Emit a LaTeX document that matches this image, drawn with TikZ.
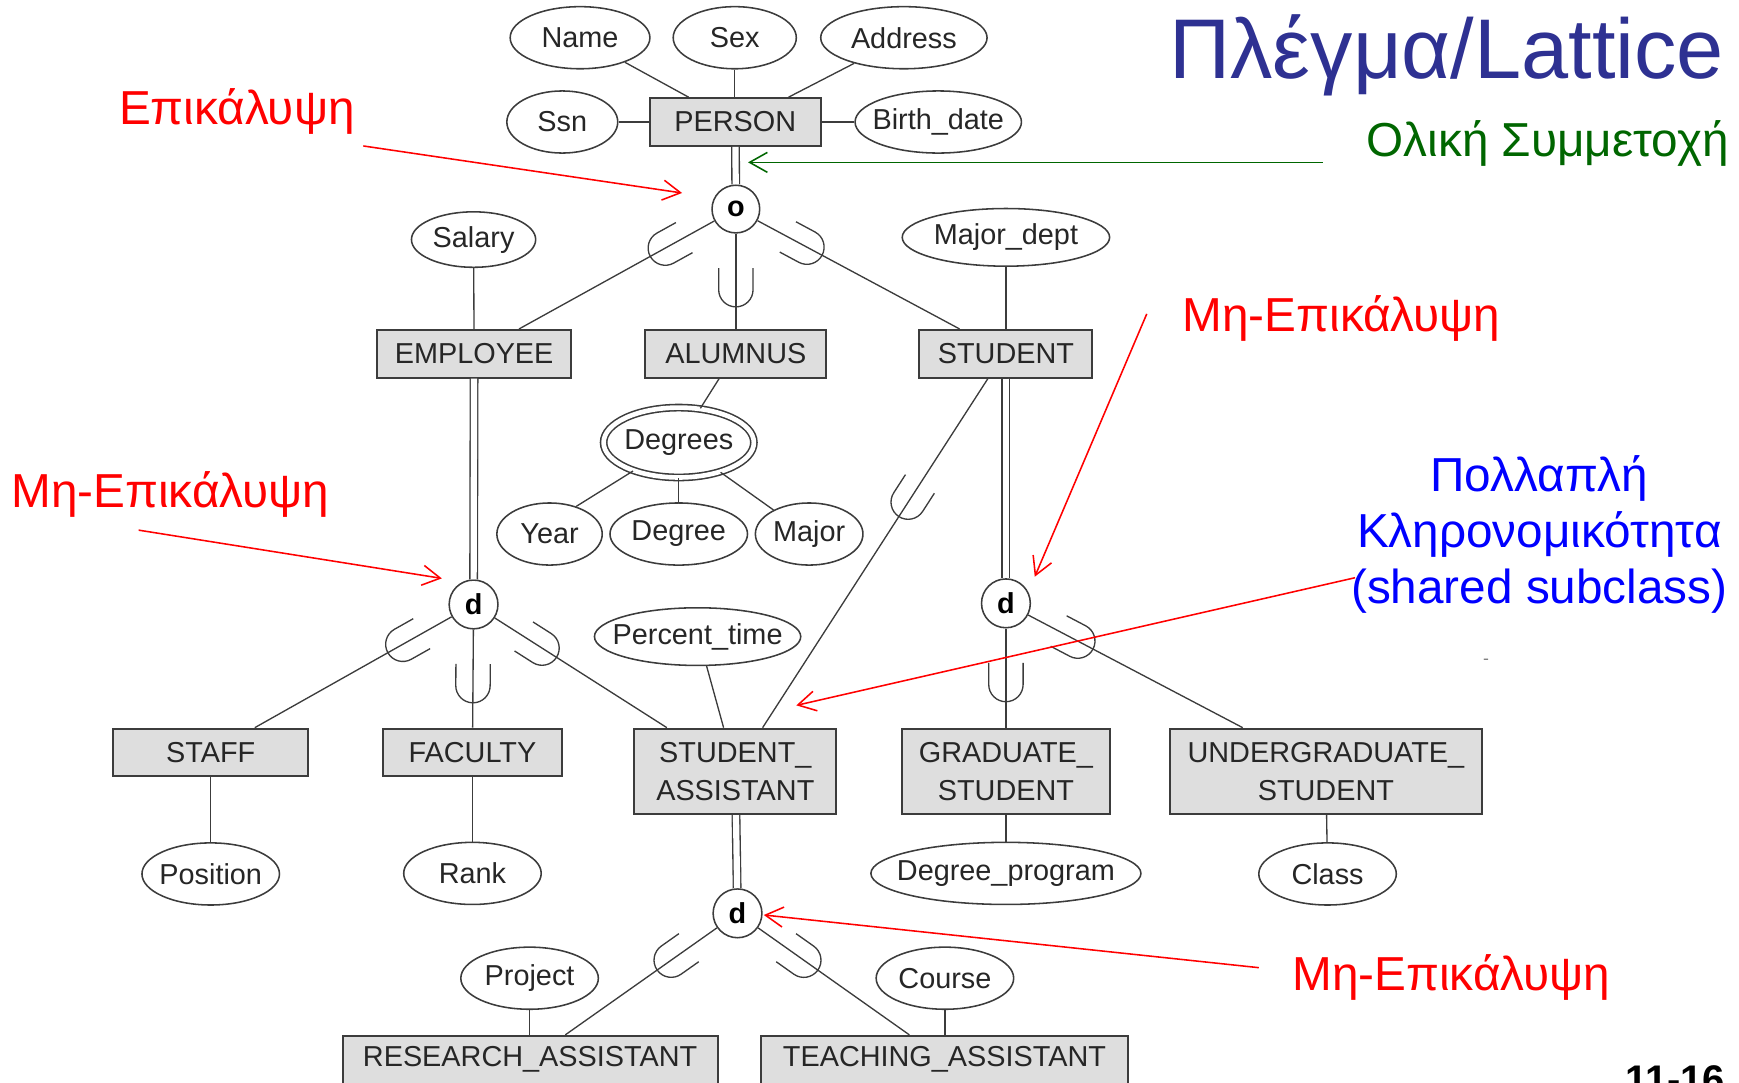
\documentclass[tikz,border=0pt]{standalone}
\usepackage{fontspec}
\setmainfont{Liberation Sans}
\usetikzlibrary{shapes.geometric,arrows.meta,decorations.markings}
\definecolor{lattblue}{RGB}{46,49,146}
\definecolor{noteblue}{RGB}{0,0,255}
\definecolor{notegreen}{RGB}{0,102,0}
\definecolor{notered}{RGB}{255,0,0}
\definecolor{erline}{RGB}{60,60,60}
\definecolor{erfill}{RGB}{222,222,222}
\begin{document}
\begin{tikzpicture}
			[x=0.5pt, y=-0.5pt,
			entity/.style={draw=erline, fill=erfill, line width=0.9pt, inner sep=0pt,
				minimum height=21.5pt, align=center, text=black!85,
				font=\fontsize{13}{17}\selectfont},
			attr/.style={ellipse, draw=erline, line width=0.7pt, inner sep=0pt,
				minimum height=28pt, text=black!85, font=\fontsize{13}{16}\selectfont,
				execute at begin node={\hbox to 0pt\bgroup\hss},
				execute at end node={\hss\egroup}},
			disj/.style={circle, draw=erline, line width=0.7pt, inner sep=0pt,
				minimum size=22pt, font=\fontsize{13}{16}\selectfont\bfseries},
			link/.style={draw=erline, line width=0.6pt},
			total/.style={link, double, double distance=2.8pt},
			cupat/.style={postaction={decorate, decoration={markings,
				mark=at position #1 with {\draw[link] (-17.5pt,7.75pt) -- (-7.75pt,7.75pt)
					arc[start angle=90, end angle=-90, radius=7.75pt] -- (-17.5pt,-7.75pt);}}}},
			note/.style={line width=0.7pt, -{Straight Barb[length=8pt, width=9pt]}},
			notetext/.style={anchor=base west, inner sep=0pt,
				font=\fontsize{21.5}{25.3}\selectfont}]
			\useasboundingbox (0,0) rectangle (1568,976);
			% PERSON and its attributes
			\node[entity, minimum width=77pt] (person) at (663,110) {PERSON};
			\node[attr, minimum width=63pt] (name) at (523,34) {Name};
			\node[attr, minimum width=55.5pt] (sex) at (662.5,34) {Sex};
			\node[attr, minimum width=75pt] (address) at (815,34) {Address};
			\node[attr, minimum width=50pt] (ssn) at (507,110) {Ssn};
			\node[attr, minimum width=75pt] (bdate) at (846,110) {Birth\_date};
			\node[disj, minimum size=21.5pt] (o) at (663.5,188.5) {o};
			% first level
			\node[entity, minimum width=87.5pt] (emp) at (427.5,319) {EMPLOYEE};
			\node[entity, minimum width=81.5pt] (alum) at (663.5,319) {ALUMNUS};
			\node[entity, minimum width=78pt] (stud) at (907,319) {STUDENT};
			\node[attr, minimum width=56pt, minimum height=25pt] (salary) at (427,216) {Salary};
			\node[attr, minimum width=93.5pt, minimum height=26pt] (majordept) at (907,214) {Major\_dept};
			\node[attr, double, double distance=2.1pt, minimum width=67.75pt,
				minimum height=31.5pt] (degrees) at (612,399) {Degrees};
			\node[attr, minimum width=47.5pt] (year) at (495.5,481.5) {Year};
			\node[attr, minimum width=62pt] (degree) at (612,481.5) {Degree};
			\node[attr, minimum width=48.5pt] (major) at (729.6,481.5) {Major};
			\node[disj] (dL) at (427,545) {d};
			\node[disj] (dR) at (907,544) {d};
			% second level
			\node[attr, minimum width=93pt, minimum height=26pt] (percent) at (629,574) {Percent\_time};
			\node[entity, minimum width=88pt] (staff) at (190,678.5) {STAFF};
			\node[entity, minimum width=81pt] (faculty) at (426,678.5) {FACULTY};
			\node[entity, minimum width=91pt, minimum height=38.5pt] (sa) at (663,695.5) {STUDENT\_\\ASSISTANT};
			\node[entity, minimum width=94pt, minimum height=38.5pt] (grad) at (907,695.5) {GRADUATE\_\\STUDENT};
			\node[entity, minimum width=140.5pt, minimum height=38.5pt] (ugrad) at (1195.5,695.5) {UNDERGRADUATE\_\\STUDENT};
			\node[attr, minimum width=62pt] (position) at (190,788) {Position};
			\node[attr, minimum width=62pt] (rank) at (426,787.5) {Rank};
			\node[attr, minimum width=121.75pt] (dprog) at (907,787.5) {Degree\_program};
			\node[attr, minimum width=62pt] (class) at (1197,788) {Class};
			\node[disj] (dB) at (665,823.5) {d};
			% third level
			\node[attr, minimum width=62pt] (project) at (477.5,882) {Project};
			\node[attr, minimum width=62pt] (course) at (852,882) {Course};
			\node[entity, minimum width=169pt] (ra) at (478,955.5) {RESEARCH\_ASSISTANT};
			\node[entity, minimum width=165.5pt] (ta) at (851.6,955.5) {TEACHING\_ASSISTANT};
			% connectors
			\draw[link] (name) -- (person.152);
			\draw[link] (sex) -- (sex |- person.north);
			\draw[link] (address) -- (person.25);
			\draw[link] (ssn) -- (person);
			\draw[link] (bdate) -- (person);
			\draw[total] (person) -- (o);
			\draw[link, cupat=33pt] (o) -- (emp);
			\draw[link, cupat=33pt] (o) -- (alum);
			\draw[link, cupat=33pt] (o) -- (stud);
			\draw[link] (salary) -- (emp);
			\draw[link] (majordept) -- (stud);
			\draw[link] (alum.236) -- (degrees);
			\draw[link] (degrees) -- (year.46);
			\draw[link] (degrees) -- (degree);
			\draw[link] (degrees) -- (major.146);
			\draw[total] (emp) -- (dL);
			\draw[total] (stud) -- (dR);
			\draw[link, cupat=74pt] (stud.234) -- (sa.58);
			\draw[link, cupat=33pt] (dL) -- (staff);
			\draw[link, cupat=33pt] (dL) -- (faculty);
			\draw[link, cupat=33pt] (dL) -- (sa);
			\draw[link] (percent.-73) -- (sa.105);
			\draw[link, cupat=33pt] (dR) -- (grad);
			\draw[link, cupat=33pt] (dR) -- (ugrad);
			\draw[link] (staff) -- (position);
			\draw[link] (faculty) -- (rank);
			\draw[link] (grad) -- (dprog);
			\draw[link] (ugrad) -- (class);
			\draw[total] (sa) -- (dB);
			\draw[link, cupat=33pt] (dB) -- (ra);
			\draw[link, cupat=33pt] (dB) -- (ta);
			\draw[link] (project) -- (project |- ra.north);
			\draw[link] (course) -- (course |- ta.north);
			% notes
			\node[notetext, text=lattblue, font=\fontsize{38.2}{44}\selectfont] (title) at (1054,71) {Πλέγμα/Lattice};
			\node[notetext, text=notegreen] (totalnote) at (1232,141) {Ολική Συμμετοχή};
			\node[notetext, text=notered] (ovl) at (107,112) {Επικάλυψη};
			\node[notetext, text=notered] (disjR) at (1066,299) {Μη-Επικάλυψη};
			\node[notetext, text=notered] (disjL) at (10,458) {Μη-Επικάλυψη};
			\node[notetext, text=notered] (disjB) at (1165,893) {Μη-Επικάλυψη};
			\node[inner sep=0pt, align=center, text=noteblue,
				font=\fontsize{21.5}{25.3}\selectfont] (shared) at (1388,482) {Πολλαπλή\\Κληρονομικότητα\\(shared subclass)};
			\node[anchor=base west, inner sep=0pt, font=\fontsize{18}{20}\selectfont\bfseries] (slide) at (1465,986) {11-16};
			\node[inner sep=0pt, text=gray, font=\fontsize{8}{8}\selectfont] (dash) at (1340,597) {-};
			\coordinate (totaltail) at (1192.5,146.4);
			\coordinate (totaltip) at (674.5,146.4);
			\coordinate (ovltail) at (327.6,131.6);
			\coordinate (ovltip) at (615,174);
			\coordinate (disjLtail) at (125,478);
			\coordinate (disjLtip) at (398.4,521.5);
			\coordinate (disjRtail) at (1034,283);
			\coordinate (disjRtip) at (933,520);
			\coordinate (sharedtail) at (1221.8,520.9);
			\coordinate (sharedtip) at (718,636);
			\coordinate (disjBtail) at (1135,872.5);
			\coordinate (disjBtip) at (688.7,825);
			\draw[note, notegreen] (totaltail) -- (totaltip);
			\draw[note, notered] (ovltail) -- (ovltip);
			\draw[note, notered] (disjLtail) -- (disjLtip);
			\draw[note, notered] (disjRtail) -- (disjRtip);
			\draw[note, notered] (sharedtail) -- (sharedtip);
			\draw[note, notered] (disjBtail) -- (disjBtip);
		\end{tikzpicture}
\end{document}
